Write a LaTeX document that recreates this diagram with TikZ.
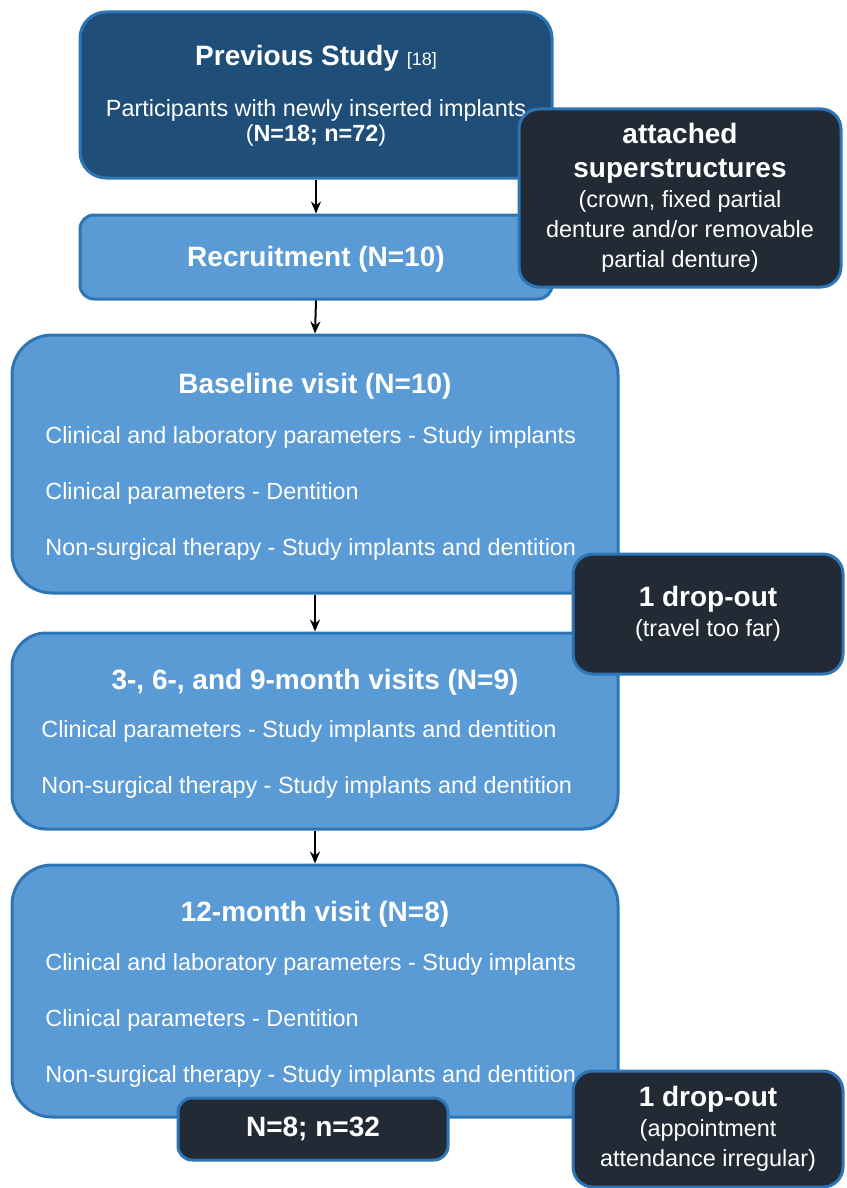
\documentclass[tikz,border=0pt]{standalone}
\usepackage{fontspec}
\setmainfont{Liberation Sans}
\usetikzlibrary{positioning,arrows.meta}
\definecolor{prevblue}{HTML}{1F4E79}
\definecolor{stepblue}{HTML}{5B9BD5}
\definecolor{edgeblue}{HTML}{2E75B6}
\definecolor{noteblack}{HTML}{222A35}
\newcommand\notehead{\fontsize{14}{15}\selectfont\bfseries}
\newcommand\notebody{\fontsize{11.7}{15}\selectfont\mdseries}
\tikzset{prevbox/.style={draw=edgeblue,line width=1.5pt,fill=prevblue,rounded corners=13pt,text=white},
        stepbox/.style={draw=edgeblue,line width=1.5pt,fill=stepblue,rounded corners=#1,text=white},
        notebox/.style={draw=edgeblue,line width=1.5pt,fill=noteblack,rounded corners=10pt,text=white,align=center,font=\notebody},
        title/.style={font=\fontsize{14}{16}\selectfont\bfseries,text=white},
        item/.style={font=\fontsize{11.7}{14}\selectfont,text=white,anchor=west,inner sep=0pt}
        }
\tikzstyle{arrow} = [line width=1pt,-{Stealth[length=6pt,width=5pt]}]

\begin{document}
\begin{tikzpicture}[x=0.5pt,y=-0.5pt]
    \useasboundingbox (0,0) rectangle (846,1188);

    % main column
    \node[prevbox,minimum width=236pt,minimum height=83pt] (prev) at (316,95) {};
    \node[title] (prevT) at (316,58) {Previous Study \mdseries\fontsize{9}{10}\selectfont[18]};
    \node[text=white,align=center,font=\fontsize{11.7}{12.5}\selectfont] (prevS) at (316,123)
        {Participants with newly inserted implants\\(\textbf{N=18; n=72})};

    \node[stepbox=7pt,minimum width=236pt,minimum height=42pt] (recr) at (316,257) {};
    \node[title] (recrT) at (316,259) {Recruitment (N=10)};

    \node[stepbox=20pt,minimum width=303pt,minimum height=129pt] (base) at (315,464) {};
    \node[title] (baseT) at (315,386) {Baseline visit (N=10)};
    \node[item] (base1) at (45,437) {Clinical and laboratory parameters - Study implants};
    \node[item] (base2) at (45,493) {Clinical parameters - Dentition};
    \node[item] (base3) at (45,549) {Non-surgical therapy - Study implants and dentition};

    \node[stepbox=17pt,minimum width=303pt,minimum height=98pt] (mid) at (315,731) {};
    \node[title] (midT) at (315,682) {3-, 6-, and 9-month visits (N=9)};
    \node[item] (mid1) at (41,731) {Clinical parameters - Study implants and dentition};
    \node[item] (mid2) at (41,787) {Non-surgical therapy - Study implants and dentition};

    \node[stepbox=20pt,minimum width=303pt,minimum height=126pt] (last) at (315,991) {};
    \node[title] (lastT) at (315,914) {12-month visit (N=8)};
    \node[item] (last1) at (45,964) {Clinical and laboratory parameters - Study implants};
    \node[item] (last2) at (45,1020) {Clinical parameters - Dentition};
    \node[item] (last3) at (45,1076) {Non-surgical therapy - Study implants and dentition};

    % side notes
    \node[notebox,minimum width=161pt,minimum height=89pt] (sup) at (680,198)
        {\notehead attached\\[2pt]\notehead superstructures\\\notebody (crown, fixed partial\\\notebody denture and/or removable\\\notebody partial denture)};
    \node[notebox,minimum width=135pt,minimum height=60pt] (drop1) at (708,614)
        {\notehead 1 drop-out\\\notebody (travel too far)};
    \node[notebox,minimum width=135pt,minimum height=31pt,rounded corners=7pt] (final) at (313,1129)
        {\notehead N=8; n=32};
    \node[notebox,minimum width=135pt,minimum height=58pt] (drop2) at (708,1129)
        {\notehead 1 drop-out\\\notebody (appointment\\\notebody attendance irregular)};

    % arrows
    \draw[arrow] (prev.south) -- (recr.north);
    \draw[arrow] (recr.south) -- (base.north);
    \draw[arrow] (base.south) -- (mid.north);
    \draw[arrow] (mid.south) -- (last.north);
\end{tikzpicture}
\end{document}
